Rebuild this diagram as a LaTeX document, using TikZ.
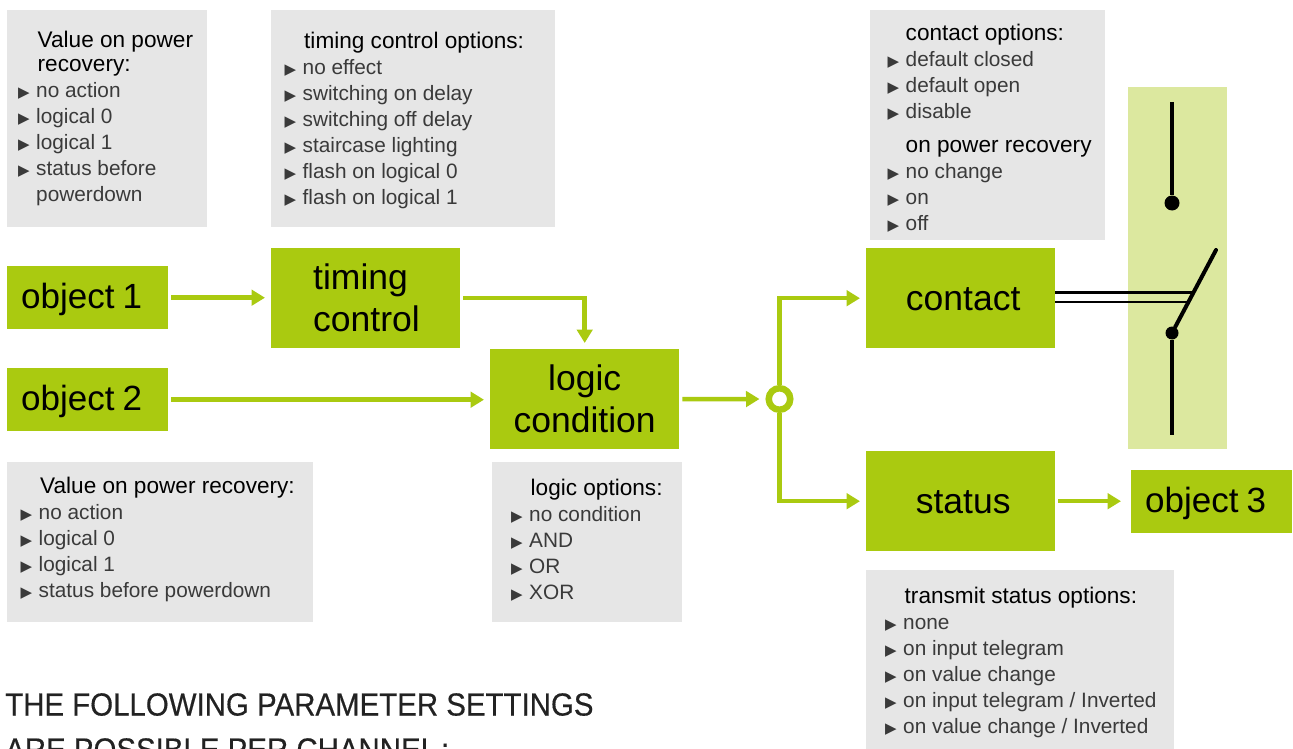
\documentclass[tikz,border=0pt]{standalone}
\usepackage{fontspec}
\usepackage{xcolor}
\usetikzlibrary{arrows.meta}
\setmainfont{Liberation Sans}
\newfontfamily\bulletfont{DejaVu Sans}
\newfontfamily\titlefont[FakeStretch=0.92,FakeBold=0.4]{Liberation Sans}
\definecolor{chgreen}{HTML}{AACA10}
\definecolor{chlight}{HTML}{DCE89F}
\definecolor{chgray}{HTML}{E6E6E6}
\definecolor{chtext}{HTML}{3A3A3A}
\definecolor{chtitle}{HTML}{222222}
\newcommand{\optitem}[1]{\makebox[18pt][l]{\raisebox{0.5pt}{\bulletfont\fontsize{15}{15}\selectfont ▶}}#1}
\newcommand{\opthead}[1]{\hspace*{19.5pt}\textcolor{black}{\fontsize{22.6}{26}\selectfont #1}}
\newcommand{\boxstrut}{\rule[-8pt]{0pt}{40pt}}
\newcommand{\objstrut}{\rule[-8pt]{0pt}{38pt}}
\tikzset{
	greenbox/.style = {fill=chgreen, anchor=north west, inner sep=0pt, align=center, font=\fontsize{35.5}{42}\selectfont},
	objectbox/.style = {greenbox, minimum width=161, minimum height=63, text width=133, align=left, font=\fontsize{35}{42}\selectfont},
	optbox/.style = {fill=chgray, anchor=north west, inner sep=0pt},
	opttext/.style = {anchor=north west, inner sep=0pt, align=left, text=chtext, font=\fontsize{20.8}{26}\selectfont},
	flow/.style = {draw=chgreen, line width=4.5pt, -{Triangle[length=13.5pt,width=15.5pt]}, shorten <=3pt, shorten >=6pt},
	wire/.style = {line width=4pt, line cap=round},
}
\begin{document}
\begin{tikzpicture}[x=1pt, y=-1pt]
	\useasboundingbox (0,0) rectangle (1293,749);
	\clip (0,0) rectangle (1293,749);

	\node[optbox, minimum width=200, minimum height=217] (recoverybox) at (7,10) {};
	\node[opttext] (recoverytext) at (18,31) {\opthead{Value on power}\\[-2pt]\opthead{recovery:}\\
		\optitem{no action}\\\optitem{logical 0}\\\optitem{logical 1}\\\optitem{status before}\\\hspace*{18pt}powerdown};
	\node[optbox, minimum width=284, minimum height=217] (timingbox) at (271,10) {};
	\node[opttext] (timingtext) at (284.5,32) {\opthead{timing control options:}\\
		\optitem{no effect}\\\optitem{switching on delay}\\\optitem{switching off delay}\\\optitem{staircase lighting}\\\optitem{flash on logical 0}\\\optitem{flash on logical 1}};
	\node[optbox, minimum width=235, minimum height=230] (contactbox) at (870,10) {};
	\node[opttext] (contacttext) at (887.5,24) {\hspace*{-1.5pt}\opthead{contact options:}\\
		\optitem{default closed}\\\optitem{default open}\\\optitem{disable}\\[8pt]\hspace*{-1.5pt}\opthead{on power recovery}\\
		\optitem{no change}\\\optitem{on}\\\optitem{off}};
	\node[optbox, minimum width=306, minimum height=160] (recoverytwobox) at (7,462) {};
	\node[opttext] (recoverytwotext) at (20.5,477) {\opthead{Value on power recovery:}\\
		\optitem{no action}\\\optitem{logical 0}\\\optitem{logical 1}\\\optitem{status before powerdown}};
	\node[optbox, minimum width=190, minimum height=160] (logicbox) at (492,462) {};
	\node[opttext] (logictext) at (511,479) {\opthead{logic options:}\\
		\optitem{no condition}\\\optitem{AND}\\\optitem{OR}\\\optitem{XOR}};
	\node[optbox, minimum width=308, minimum height=179] (statusbox) at (866,570) {};
	\node[opttext] (statustext) at (885,587) {\opthead{transmit status options:}\\
		\optitem{none}\\\optitem{on input telegram}\\\optitem{on value change}\\\optitem{on input telegram / Inverted}\\\optitem{on value change / Inverted}};

	\node[objectbox] (object1) at (7,266) {\objstrut object\hspace{8pt}1};
	\node[objectbox] (object2) at (7,368) {\objstrut object\hspace{8pt}2};
	\node[objectbox] (object3) at (1131,470) {\objstrut object\hspace{8pt}3};
	\node[greenbox, minimum width=189, minimum height=100, text width=105, align=left] (timing) at (271,248) {\boxstrut timing\\control\boxstrut};
	\node[greenbox, minimum width=189, minimum height=100] (logic) at (490,349) {\boxstrut logic\\condition\boxstrut};
	\node[greenbox, minimum width=189, minimum height=100, text width=184] (contact) at (866,248) {\boxstrut\hspace*{5pt}contact};
	\node[greenbox, minimum width=189, minimum height=100, text width=184] (status) at (866,451) {\boxstrut\hspace*{5pt}status};
	\node[draw=chgreen, fill=white, circle, line width=6.5pt, inner sep=0pt, minimum size=21.5pt] (junction) at (779.5,399) {};

	\draw[flow] (object1.east) -- (object1.east -| timing.west);
	\draw[flow] (timing.east) -| (logic.north);
	\draw[flow] (object2.east) -- (object2.east -| logic.west);
	\draw[flow] (logic.east) -- (junction.west);
	\draw[flow, shorten <=0pt] (junction.north) |- (contact.west);
	\draw[flow, shorten <=0pt] (junction.south) |- (status.west);
	\draw[flow, shorten >=10pt] (status.east) -- (status.east -| object3.west);

	\fill[chlight] (1128,87) rectangle (1227,449);
	\coordinate (wiretop) at (1172,102);
	\coordinate (wirebottom) at (1172,435);
	\coordinate (armtip) at (1216,250);
	\coordinate (rodone) at (1192,292.3);
	\coordinate (rodtwo) at (1187,302.3);
	\node[fill=black, circle, inner sep=0pt, minimum size=15pt] (fixeddot) at (1172,203) {};
	\node[fill=black, circle, inner sep=0pt, minimum size=13pt] (pivotdot) at (1172,333) {};
	\draw[line width=3pt] (rodone -| contact.east) -- (rodone);
	\draw[line width=2.2pt] (rodtwo -| contact.east) -- (rodtwo);
	\draw[line width=4pt] (wiretop) -- (fixeddot);
	\draw[line width=4pt] (pivotdot) -- (wirebottom);
	\draw[wire] (pivotdot) -- (armtip);

	\node[anchor=north west, inner sep=0pt, align=left, text=chtitle, font=\titlefont\fontsize{32}{45}\selectfont] (title) at (5,693) {THE FOLLOWING PARAMETER SETTINGS\\ARE POSSIBLE PER CHANNEL\hspace{4pt}:};
\end{tikzpicture}
\end{document}
